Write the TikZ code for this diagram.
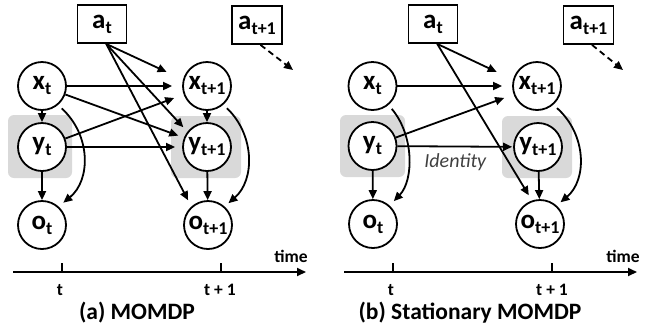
\documentclass[tikz,border=0pt]{standalone}
\usepackage{fontspec}
\setmainfont{Carlito}
\usetikzlibrary{arrows.meta}
\definecolor{boxgray}{HTML}{D9D9D9}
\definecolor{labgray}{HTML}{404040}
\newcommand\sbt[1]{\raisebox{-5pt}{\fontsize{18}{18}\selectfont #1}}
\begin{document}
\begin{tikzpicture}[x=1pt,y=-1pt,
  varnode/.style={circle,draw,line width=1.8pt,minimum size=48pt,inner sep=0pt,fill=white,
    font=\fontsize{27}{27}\selectfont\bfseries},
  actnode/.style={rectangle,draw,line width=1.8pt,minimum width=49pt,minimum height=38pt,inner sep=0pt,fill=white,
    font=\fontsize{27}{27}\selectfont\bfseries},
  gbox/.style={fill=boxgray,rounded corners=6pt,inner sep=0pt},
  arr/.style={line width=1.8pt,-{Triangle[length=9pt,width=8pt]}},
  plainline/.style={line width=1.8pt},
  labtext/.style={font=\fontsize{17.5}{17.5}\selectfont\bfseries,inner sep=0pt},
  captext/.style={font=\fontsize{23.5}{23.5}\selectfont\bfseries,inner sep=0pt},
  identtext/.style={font=\fontsize{20}{20}\selectfont\itshape,text=labgray,inner sep=0pt}]
\useasboundingbox (0,0) rectangle (660,333);

% ---------------- panel (a)
\begin{scope}[name prefix=a-]
  \node[gbox,minimum width=64pt,minimum height=63pt] (gy) at (40,146.5) {};
  \node[gbox,minimum width=70pt,minimum height=62pt] (gy1) at (206,147) {};
  \node[actnode] (at) at (102,24) {a\sbt{t}};
  \node[actnode,minimum width=50pt] (at1) at (257,25) {a\sbt{t+1}};
  \node[varnode] (xt) at (42,86) {x\sbt{t}};
  \node[varnode] (xt1) at (207,86) {x\sbt{t+1}};
  \node[varnode] (yt) at (42,147) {y\sbt{t}};
  \node[varnode] (yt1) at (207,147) {y\sbt{t+1}};
  \node[varnode] (ot) at (42,225) {o\sbt{t}};
  \node[varnode] (ot1) at (208,225) {o\sbt{t+1}};
  \coordinate (dn) at (293,70);

  \draw[arr,shorten >=18pt] (at.-78) -- (xt1.165);
  \draw[arr,shorten >=6pt] (at.-78) -- (yt1.142);
  \draw[arr,shorten >=7pt] (at.-78) -- (ot1.132);
  \draw[arr,shorten >=10pt] (xt) -- (xt1);
  \draw[arr,shorten >=6pt] (xt.-20) -- (yt1.158);
  \draw[arr,shorten >=10pt] (yt.20) -- (xt1.-160);
  \draw[arr,shorten >=7pt] (yt) -- (yt1);
  \draw[arr] (xt) -- (yt);
  \draw[arr] (xt1) -- (yt1);
  \draw[arr] (yt) -- (ot);
  \draw[arr] (yt1) -- (ot1);
  \draw[arr,shorten <=5pt,shorten >=6pt] (xt.-50) .. controls (91,135) and (91,180) .. (ot.48);
  \draw[arr,shorten <=5pt,shorten >=5pt] (xt1.-49) .. controls (255,135) and (255,180) .. (ot1.48);
  \draw[arr,dashed,dash pattern=on 6pt off 4pt] (at1.-80) -- (dn);

  \coordinate (t0) at (13,272);
  \coordinate (t1) at (306,272);
  \coordinate (k1) at (62,272);
  \coordinate (k1u) at (62,263);
  \coordinate (k2) at (221,272);
  \coordinate (k2u) at (221,263);
  \draw[arr] (t0) -- (t1);
  \draw[plainline] (k1) -- (k1u);
  \draw[plainline] (k2) -- (k2u);
  \node[labtext] (time) at (291,256) {time};
  \node[labtext] (tl) at (60,290) {t};
  \node[labtext] (tl1) at (220,290) {t + 1};
  \node[captext] (title) at (137,313) {(a) MOMDP};
\end{scope}

% ---------------- panel (b)
\begin{scope}[xshift=331pt,name prefix=b-]
  \node[gbox,minimum width=65pt,minimum height=62pt] (gy) at (41.5,146) {};
  \node[gbox,minimum width=70pt,minimum height=62pt] (gy1) at (206,147) {};
  \node[actnode] (at) at (102,24) {a\sbt{t}};
  \node[actnode,minimum width=50pt] (at1) at (257.5,25) {a\sbt{t+1}};
  \node[varnode] (xt) at (41.5,86) {x\sbt{t}};
  \node[varnode] (xt1) at (206,86) {x\sbt{t+1}};
  \node[varnode] (yt) at (41.5,146) {y\sbt{t}};
  \node[varnode] (yt1) at (207,147) {y\sbt{t+1}};
  \node[varnode] (ot) at (42,224) {o\sbt{t}};
  \node[varnode] (ot1) at (209,224) {o\sbt{t+1}};
  \coordinate (dn) at (292,70);

  \draw[arr,shorten >=18pt] (at.-78) -- (xt1.165);
  \draw[arr,shorten >=6pt] (at.-78) -- (ot1.109);
  \draw[arr,shorten >=10pt] (xt) -- (xt1);
  \draw[arr,shorten >=10pt] (yt.20) -- (xt1.-160);
  \draw[arr,shorten >=1pt] (yt) -- node[identtext,below=6pt] (id) {Identity} (yt1);
  \draw[arr] (yt) -- (ot);
  \draw[arr] (yt1) -- (ot1);
  \draw[arr,shorten <=5pt,shorten >=6pt] (xt.-50) .. controls (83,135) and (83,180) .. (ot.48);
  \draw[arr,shorten <=5pt,shorten >=5pt] (xt1.-49) .. controls (256,135) and (256,180) .. (ot1.48);
  \draw[arr,dashed,dash pattern=on 6pt off 4pt] (at1.-80) -- (dn);

  \coordinate (t0) at (13,272);
  \coordinate (t1) at (306,272);
  \coordinate (k1) at (62,272);
  \coordinate (k1u) at (62,263);
  \coordinate (k2) at (221,272);
  \coordinate (k2u) at (221,263);
  \draw[arr] (t0) -- (t1);
  \draw[plainline] (k1) -- (k1u);
  \draw[plainline] (k2) -- (k2u);
  \node[labtext] (time) at (292,256) {time};
  \node[labtext] (tl) at (60,290) {t};
  \node[labtext] (tl1) at (221,290) {t + 1};
  \node[captext] (title) at (139,313) {(b) Stationary MOMDP};
\end{scope}
\end{tikzpicture}
\end{document}
